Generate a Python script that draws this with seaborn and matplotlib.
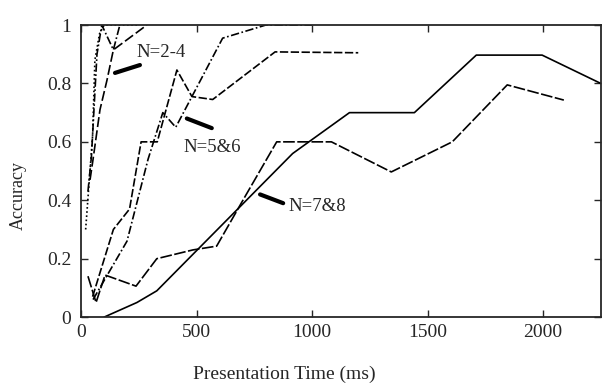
import matplotlib
matplotlib.use("Agg")
import matplotlib.pyplot as plt
import seaborn as sns
import pandas as pd

# presentation time (ms) and accuracy
n2_t = [20, 50, 60, 80, 100, 250]
n2_acc = [0.30, 0.62, 0.88, 0.97, 1.0, 1.0]
n3_t = [30, 45, 69, 90, 140, 168]
n3_acc = [0.43, 0.55, 0.90, 1.0, 0.915, 1.0]
n4_t = [39, 52, 82, 112, 140, 285]
n4_acc = [0.47, 0.54, 0.71, 0.81, 0.915, 1.0]
n5_t = [50, 140, 210, 260, 330, 415, 480, 570, 840, 1200]
n5_acc = [0.07, 0.30, 0.37, 0.60, 0.60, 0.846, 0.755, 0.745, 0.908, 0.905]
n6_t = [52, 199, 290, 354, 410, 480, 613, 800, 1000]
n6_acc = [0.06, 0.26, 0.54, 0.70, 0.65, 0.755, 0.955, 1.0, 1.0]
n7_t = [100, 242, 328, 916, 1162, 1443, 1711, 1996, 2250]
n7_acc = [0.0, 0.05, 0.09, 0.56, 0.70, 0.70, 0.897, 0.897, 0.80]
n8_t = [30, 65, 104, 238, 328, 484, 587, 708, 847, 1084, 1343, 1607, 1845, 2090]
n8_acc = [0.14, 0.05, 0.144, 0.106, 0.20, 0.23, 0.243, 0.41, 0.60, 0.60, 0.497, 0.60, 0.795, 0.743]

series = {"N=2": (n2_t, n2_acc), "N=3": (n3_t, n3_acc), "N=4": (n4_t, n4_acc),
          "N=5": (n5_t, n5_acc), "N=6": (n6_t, n6_acc),
          "N=7": (n7_t, n7_acc), "N=8": (n8_t, n8_acc)}
df = pd.concat([pd.DataFrame({"t": t, "acc": a, "N": k}) for k, (t, a) in series.items()])

dashes = {"N=2": (1, 1.5), "N=3": (5, 1.5, 1, 1.5), "N=4": (6, 2),
          "N=5": (5, 1.5), "N=6": (5, 1.5, 1, 1.5),
          "N=7": "", "N=8": (7, 1.5)}

sns.set_style("ticks")
plt.rcParams["font.family"] = ["Liberation Serif", "DejaVu Serif"]
fig = plt.figure(figsize=(6.02, 3.91), dpi=100)
ax = fig.add_axes([0.1346, 0.189, 0.8634, 0.747])
sns.lineplot(data=df, x="t", y="acc", hue="N", style="N", dashes=dashes,
             palette=["black"] * 7, estimator=None, sort=False, lw=1.2,
             legend=False, ax=ax)

ax.set_xlim(0, 2250)
ax.set_ylim(0, 1)
ax.set_xticks([0, 500, 1000, 1500, 2000])
ax.set_yticks([0, 0.2, 0.4, 0.6, 0.8, 1])
ax.set_yticklabels(["0", "0.2", "0.4", "0.6", "0.8", "1"])
ax.tick_params(direction="in", length=5, top=True, right=True, labelsize=14, width=1)
ax.tick_params(axis="y", pad=7)
ax.tick_params(axis="x", pad=5)
for s in ax.spines.values():
    s.set_linewidth(1.3)
ax.set_xlabel("Presentation Time (ms)", fontsize=14)
ax.set_ylabel("Accuracy", fontsize=13)
ax.xaxis.set_label_coords(0.392, -0.165)
ax.yaxis.set_label_coords(-0.104, 0.418)

# group labels with short thick leader strokes
for txt, tx, ty, (x0, y0, x1, y1) in [
        ("N=2-4", 242, 0.905, (147, 0.836, 255, 0.863)),
        ("N=5&6", 445, 0.58, (458, 0.68, 566, 0.647)),
        ("N=7&8", 900, 0.38, (775, 0.42, 875, 0.39))]:
    ax.plot([x0, x1], [y0, y1], color="black", lw=3, solid_capstyle="round")
    ax.text(tx, ty, txt, fontsize=13.5, va="center")

fig.savefig("out.png", dpi=100)
